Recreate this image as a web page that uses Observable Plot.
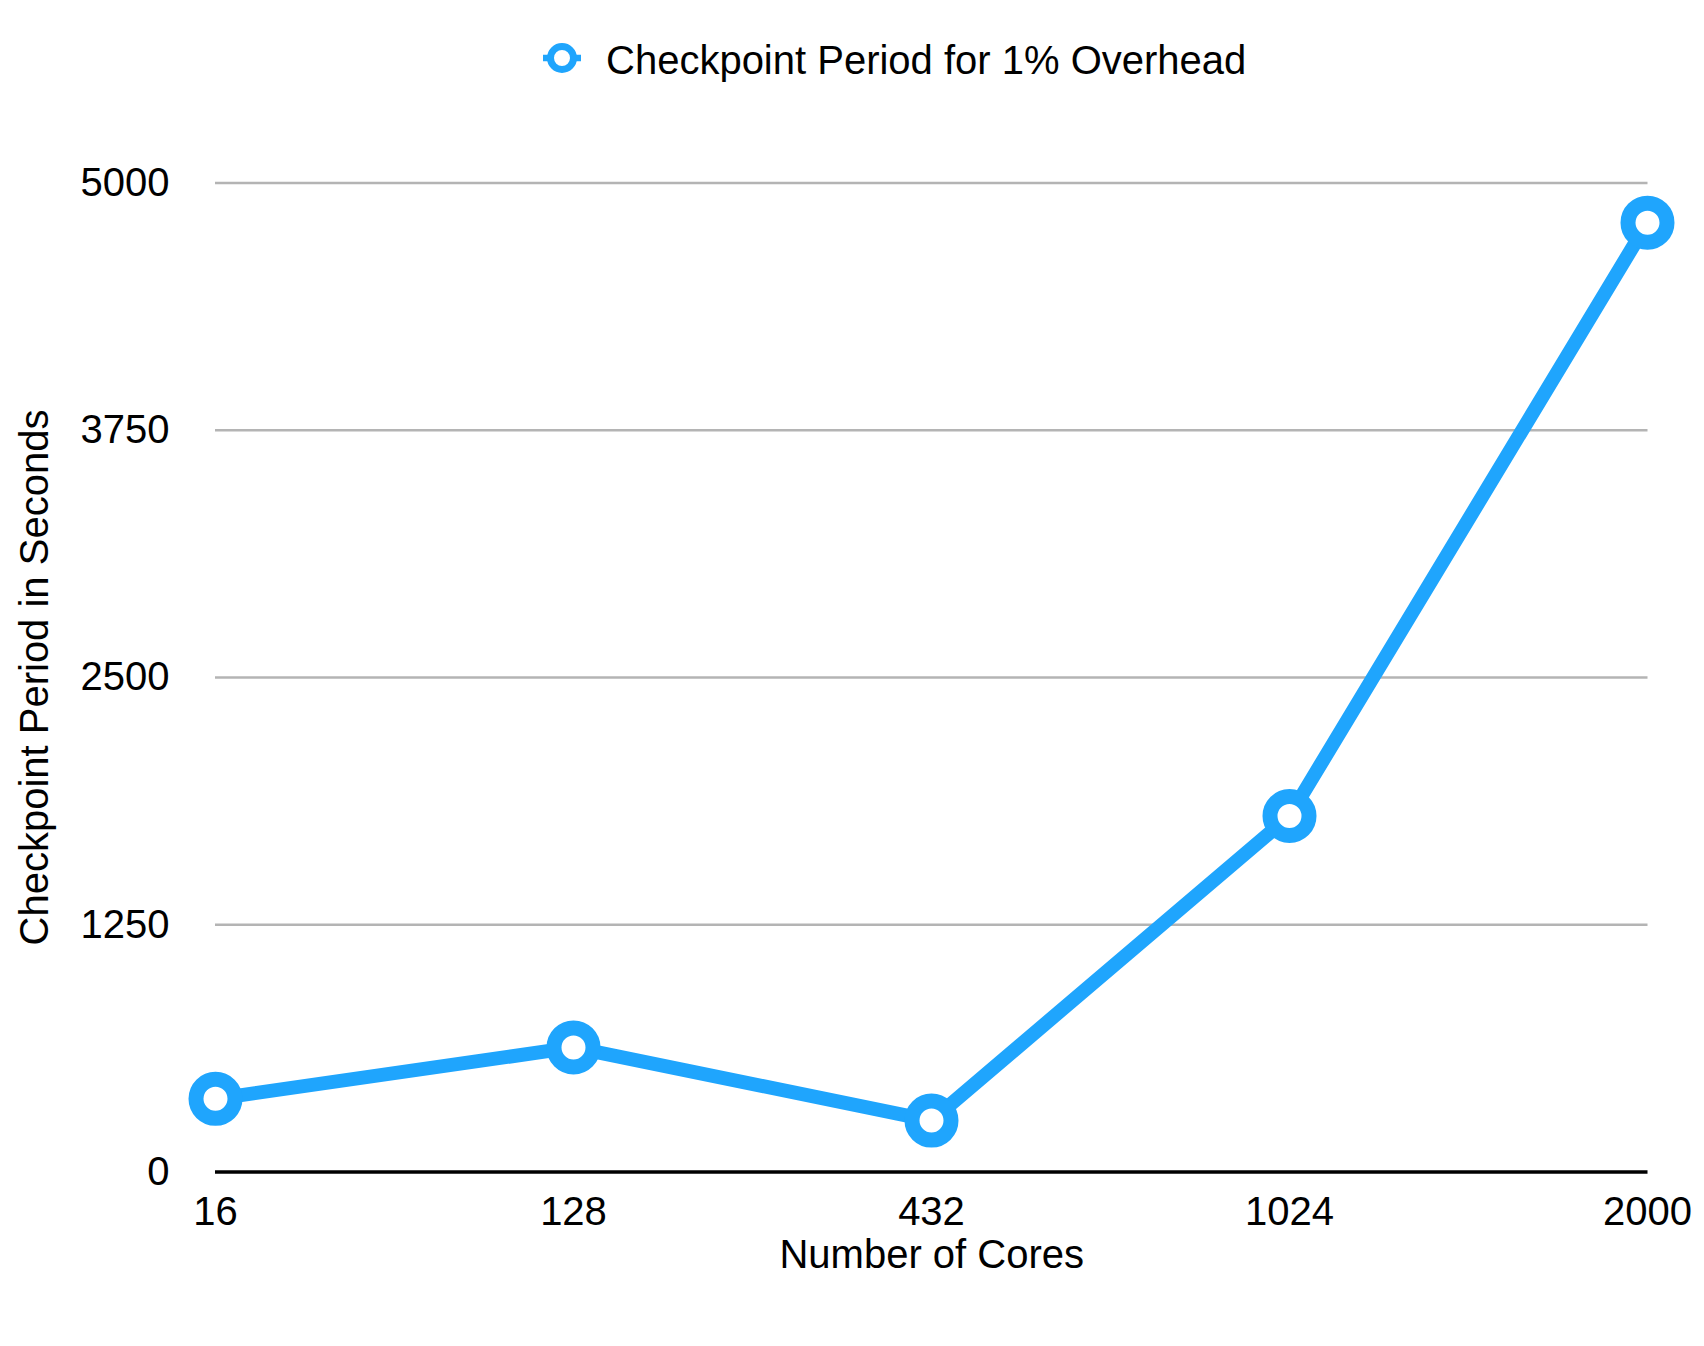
<!DOCTYPE html>
<html><head><meta charset="utf-8">
<script src="https://cdn.jsdelivr.net/npm/d3@7"></script>
<script src="https://cdn.jsdelivr.net/npm/@observablehq/plot@0.6"></script>
<style>
html,body{margin:0;padding:0;background:#fff;}
body{font-family:"Liberation Sans",Arial,Helvetica,sans-serif;width:1704px;height:1346px;overflow:hidden;}
#legend{position:relative;height:110px;width:1704px;}
#legend svg{position:absolute;left:542px;top:38px;}
#legend span{position:absolute;left:606px;top:40px;font-size:40px;line-height:1;color:#000;white-space:nowrap;}
#chart svg{display:block;}
</style></head><body>
<div id="legend"></div>
<div id="chart"></div>
<script>
const cores = ["16", "128", "432", "1024", "2000"];
const periods = [370, 630, 260, 1800, 4800];
const yTicks = [0, 1250, 2500, 3750, 5000];
const seriesName = "Checkpoint Period for 1% Overhead";
const xTitle = "Number of Cores";
const yTitle = "Checkpoint Period in Seconds";
const blue = "#1fa5fd";

const data = cores.map((c, i) => ({cores: c, period: periods[i]}));

// legend
const leg = document.getElementById("legend");
leg.innerHTML = `<svg width="40" height="40" viewBox="0 0 40 40">
  <line x1="1" y1="20" x2="39" y2="20" stroke="${blue}" stroke-width="6.5"/>
  <circle cx="20" cy="20" r="11.5" fill="#fff" stroke="${blue}" stroke-width="7"/>
</svg><span></span>`;
leg.querySelector("span").textContent = seriesName;

const chart = Plot.plot({
  width: 1704,
  height: 1236,
  marginTop: 72.6,
  marginBottom: 174.5,
  marginLeft: 215,
  marginRight: 56.5,
  style: {fontFamily: '"Liberation Sans", Arial, Helvetica, sans-serif', fontSize: "40px", color: "#000", background: "#fff", overflow: "visible"},
  x: {type: "point", domain: cores, padding: 0},
  y: {domain: [0, 5000], labelArrow: "none"},
  marks: [
    Plot.gridY(yTicks.slice(1), {stroke: "#b4b4b4", strokeOpacity: 1, strokeWidth: 2.5}),
    Plot.ruleY([0], {stroke: "#000", strokeWidth: 3.5}),
    Plot.axisY(yTicks, {tickSize: 0, tickPadding: 46, fontSize: 40, tickFormat: d => String(d), label: yTitle, labelArrow: "none", labelAnchor: "center", labelOffset: 196}),
    Plot.axisX({tickSize: 0, tickPadding: 25, fontSize: 40, label: xTitle, labelAnchor: "center", labelOffset: 96}),
    Plot.line(data, {x: "cores", y: "period", stroke: blue, strokeWidth: 14, strokeLinejoin: "round"}),
    Plot.dot(data, {x: "cores", y: "period", r: 19.5, stroke: blue, strokeWidth: 15, fill: "#fff"})
  ]
});
document.getElementById("chart").appendChild(chart);
</script>
</body></html>
